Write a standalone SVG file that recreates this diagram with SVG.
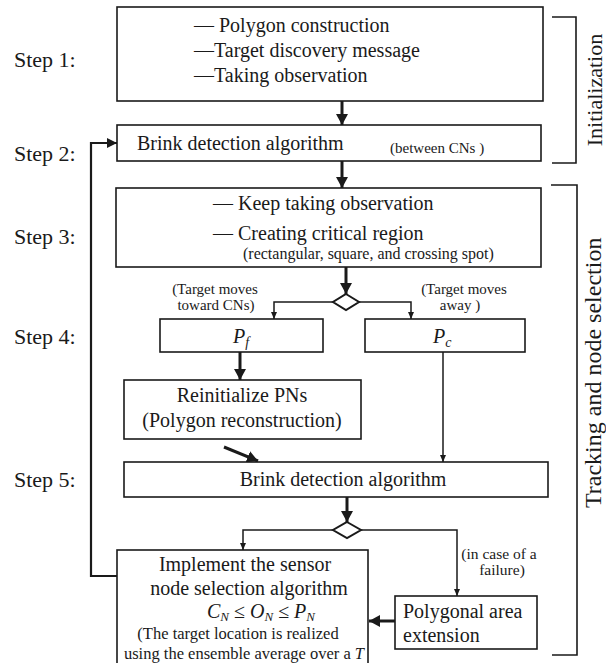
<svg xmlns="http://www.w3.org/2000/svg" width="606" height="663" viewBox="0 0 606 663" font-family="'Liberation Serif','Times New Roman',serif">
<defs>
<marker id="big" markerUnits="userSpaceOnUse" markerWidth="12" markerHeight="12" refX="11" refY="6" orient="auto">
<path d="M0,0 L11,6 L0,12 z" fill="#1a1a1a"/>
</marker>
<marker id="mid" markerUnits="userSpaceOnUse" markerWidth="10" markerHeight="10" refX="10" refY="5" orient="auto">
<path d="M0,0 L10,5 L0,10 z" fill="#1a1a1a"/>
</marker>
<marker id="small" markerUnits="userSpaceOnUse" markerWidth="7" markerHeight="7" refX="7" refY="3.5" orient="auto">
<path d="M0,0.5 L7,3.5 L0,6.5 z" fill="#1a1a1a"/>
</marker>
</defs>
<style>
text{font-family:"Liberation Serif","Times New Roman",serif;fill:#1a1a1a}
.box{fill:#fff;stroke:#1a1a1a;stroke-width:1.6}
.t{font-size:20px}
.s{font-size:16px}
.lab{font-size:15px}
.step{font-size:22px}
.it{font-style:italic}
.thick{fill:none;stroke:#1a1a1a;stroke-width:3}
.thin{fill:none;stroke:#1a1a1a;stroke-width:1.5}
.loop{fill:none;stroke:#1a1a1a;stroke-width:2.2}
.br{fill:none;stroke:#1a1a1a;stroke-width:1.6}
</style>
<rect width="606" height="663" fill="#fff"/>

<g id="step-labels">
<text class="step" x="14" y="67">Step 1:</text>
<text class="step" x="14" y="161">Step 2:</text>
<text class="step" x="14" y="244">Step 3:</text>
<text class="step" x="14" y="344">Step 4:</text>
<text class="step" x="14" y="487">Step 5:</text>
</g>

<g id="connectors">
<line class="thick" x1="342" y1="101" x2="342" y2="125" marker-end="url(#big)"/>
<line class="thick" x1="342" y1="161" x2="342" y2="188" marker-end="url(#big)"/>
<line class="thick" x1="346" y1="267" x2="346" y2="294" marker-end="url(#big)"/>
<path class="thin" d="M333,302 H274 V319" marker-end="url(#small)"/>
<path class="thin" d="M359,302 H411 V319" marker-end="url(#small)"/>
<line class="thick" x1="240" y1="352" x2="240" y2="380" marker-end="url(#big)"/>
<line class="thin" x1="443" y1="352" x2="443" y2="462" marker-end="url(#small)"/>
<line class="thick" x1="224" y1="447" x2="258" y2="461" marker-end="url(#big)"/>
<line class="thick" x1="347" y1="497" x2="347" y2="522" marker-end="url(#big)"/>
<path class="thin" d="M333,530 H243 V550" marker-end="url(#small)"/>
<path class="thin" d="M361,530 H457 V596" marker-end="url(#small)"/>
<line class="thick" x1="395" y1="621" x2="369" y2="621" marker-end="url(#big)"/>
<path class="loop" d="M117,576 H91 V143 H117" marker-end="url(#mid)"/>
</g>

<g id="init-bracket">
<path class="br" d="M552,17 H576 V163 H552"/>
<text transform="translate(602,90) rotate(-90)" text-anchor="middle" style="font-size:22px">Initialization</text>
</g>

<g id="tracking-bracket">
<path class="br" d="M551,185 H577 V655 H552"/>
<text transform="translate(601,508) rotate(-90)" style="font-size:24px">Tracking and node selection</text>
</g>

<g id="step1">
<rect class="box" x="117" y="7" width="426" height="94"/>
<text class="t" x="194" y="32">— Polygon construction</text>
<text class="t" x="194" y="57">—Target discovery message</text>
<text class="t" x="194" y="82">—Taking observation</text>
</g>

<g id="step2">
<rect class="box" x="117" y="125" width="424" height="36"/>
<text class="t" x="137" y="150">Brink detection algorithm</text>
<text style="font-size:15px" x="390" y="153">(between CNs )</text>
</g>

<g id="step3">
<rect class="box" x="116" y="188" width="425" height="79"/>
<text class="t" x="213" y="210">— Keep taking observation</text>
<text class="t" x="213" y="240">— Creating critical region</text>
<text class="s" x="243" y="259">(rectangular, square, and crossing spot)</text>
</g>

<g id="decision1">
<polygon points="346,294 359,302 346,310 333,302" fill="#fff" stroke="#1a1a1a" stroke-width="2"/>
<text class="lab" x="215" y="294" text-anchor="middle">(Target moves</text>
<text class="lab" x="216" y="310" text-anchor="middle">toward CNs)</text>
<text class="lab" x="464" y="294" text-anchor="middle">(Target moves</text>
<text class="lab" x="460" y="310" text-anchor="middle">away )</text>
</g>

<g id="pf">
<rect class="box" x="160" y="319" width="163" height="33"/>
<text class="t it" x="233" y="343">P<tspan font-size="14" dy="4">f</tspan></text>
</g>

<g id="pc">
<rect class="box" x="365" y="319" width="160" height="33"/>
<text class="t it" x="433" y="343">P<tspan font-size="14" dy="4">c</tspan></text>
</g>

<g id="reinit">
<rect class="box" x="124" y="380" width="237" height="59"/>
<text class="t" x="242" y="402" text-anchor="middle">Reinitialize PNs</text>
<text class="t" x="242" y="427" text-anchor="middle">(Polygon reconstruction)</text>
</g>

<g id="step5">
<rect class="box" x="124" y="462" width="424" height="35"/>
<text class="t" x="343" y="486" text-anchor="middle">Brink detection algorithm</text>
</g>

<g id="decision2">
<polygon points="347,522 361,530 347,538 333,530" fill="#fff" stroke="#1a1a1a" stroke-width="2"/>
<text style="font-size:15.5px" x="499" y="559" text-anchor="middle">(in case of a</text>
<text style="font-size:15.5px" x="502" y="575" text-anchor="middle">failure)</text>
</g>

<g id="implement">
<rect class="box" x="117" y="550" width="251" height="125"/>
<text class="t" x="245" y="571" text-anchor="middle">Implement the sensor</text>
<text class="t" x="249" y="595" text-anchor="middle">node selection algorithm</text>
<text class="t" x="207" y="618"><tspan class="it">C</tspan><tspan class="it" font-size="13" dy="3">N</tspan><tspan dy="-3"> ≤ </tspan><tspan class="it">O</tspan><tspan class="it" font-size="13" dy="3">N</tspan><tspan dy="-3"> ≤ </tspan><tspan class="it">P</tspan><tspan class="it" font-size="13" dy="3">N</tspan></text>
<text style="font-size:16.5px" x="238" y="639" text-anchor="middle">(The target location is realized</text>
<text style="font-size:16.5px" x="244" y="659" text-anchor="middle">using the ensemble average over a <tspan class="it">T</tspan></text>
</g>

<g id="polygonal">
<rect class="box" x="395" y="596" width="142" height="53"/>
<text class="t" x="403" y="618">Polygonal area</text>
<text class="t" x="403" y="642">extension</text>
</g>
</svg>
